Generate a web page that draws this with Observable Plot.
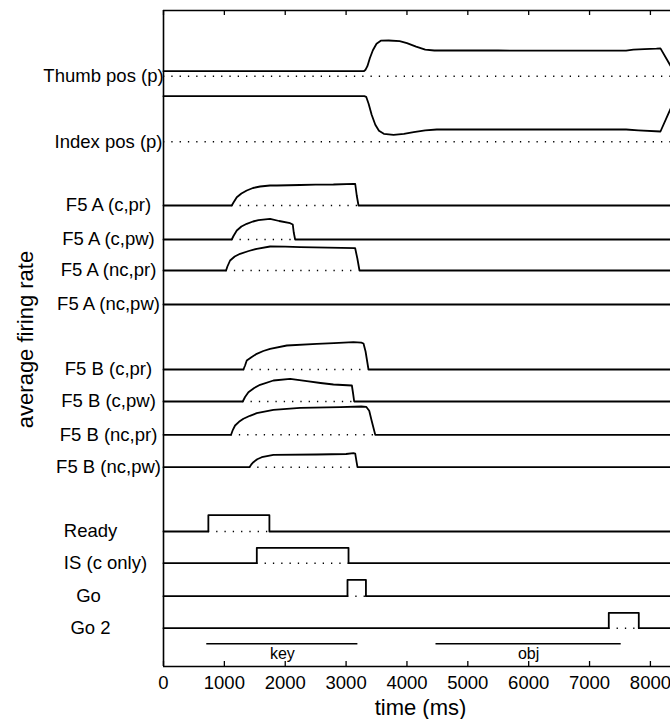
<!DOCTYPE html>
<html><head><meta charset="utf-8">
<script src="https://cdn.jsdelivr.net/npm/d3@7"></script>
<script src="https://cdn.jsdelivr.net/npm/@observablehq/plot@0.6"></script>
<style>body{margin:0;background:#fff} svg{display:block}</style>
</head><body><div id="chart"></div>
<script>
// ---- data ----
const timeTicks = [0, 1000, 2000, 3000, 4000, 5000, 6000, 7000, 8000];
const timeDomain = [0, 8330];
const levelDomain = [0, 656];

const rowLabels = ["Thumb pos (p)", "Index pos (p)", "F5 A (c,pr)", "F5 A (c,pw)", "F5 A (nc,pr)", "F5 A (nc,pw)",
  "F5 B (c,pr)", "F5 B (c,pw)", "F5 B (nc,pr)", "F5 B (nc,pw)", "Ready", "IS (c only)", "Go", "Go 2"];
const rowBaselines = [590.3, 524.7, 461, 427, 396, 362, 297, 265, 231.7, 199.3, 135, 103.3, 70.3, 38.3];

const thumbPos = [[0,5],[3290,5],[3320,6.5],[3350,10],[3390,18],[3440,26],[3500,32.5],[3570,35.5],[3700,35.7],[3880,35],[4000,33],[4150,29.5],[4300,26.5],[4450,25.7],[5500,25.7],[6500,25.5],[7600,25.5],[7720,26.5],[7900,27],[8100,27.5],[8165,27.8],[8330,10.5]];
const indexPos = [[0,45.6],[3300,45.6],[3330,45],[3370,38],[3420,27],[3480,17],[3540,11],[3620,8],[3780,7],[3950,8],[4110,9.7],[4300,11.5],[4490,12.3],[6000,12.3],[7600,12.3],[7800,11.5],[8165,10.3],[8330,33]];
const f5aCPr = [[0,0],[1121,0],[1150,3],[1204,8.3],[1280,12],[1368,15],[1470,17.5],[1587,19],[1750,20],[1862,20],[2245,20.5],[2500,20.8],[2792,21],[3121,21.7],[3150,21.5],[3175,10],[3204,0],[8330,0]];
const f5aCPw = [[0,0],[1121,0],[1150,3.5],[1204,9],[1280,13],[1368,15.7],[1470,18],[1560,19.3],[1751,20.7],[1900,18.5],[2081,16.3],[2124,15],[2140,7],[2163,0],[8330,0]];
const f5aNcPr = [[0,0],[1028,0],[1050,4],[1094,10],[1170,14],[1258,16.7],[1400,19.5],[1532,21.7],[1751,24],[2000,23.8],[2245,23.3],[2700,22.8],[3149,22.3],[3185,12],[3220,0],[8330,0]];
const f5aNcPw = [[0,0],[8330,0]];
const f5bCPr = [[0,0],[1313,0],[1340,4],[1368,9],[1450,12.5],[1532,15.7],[1640,18.5],[1751,20.7],[2026,24],[2519,25.7],[2800,26.3],[3121,27.3],[3250,26.8],[3286,26],[3320,18],[3368,0],[8330,0]];
const f5bCPw = [[0,0],[1302,0],[1340,4.5],[1395,9.3],[1490,13.5],[1587,16.7],[1806,21],[2081,22.7],[2355,20.3],[2580,18.5],[2792,17],[3095,16],[3115,8],[3133,0],[8330,0]];
const f5bNcPr = [[0,0],[1110,0],[1140,5],[1176,9.3],[1240,13],[1313,16],[1420,19],[1532,21.6],[1806,25],[2245,27],[2902,27.6],[3250,28.3],[3330,28],[3380,24],[3420,14],[3479,0],[8330,0]];
const f5bNcPw = [[0,0],[1412,0],[1440,2.5],[1477,5],[1540,8],[1614,10],[1806,12.4],[2519,12.7],[3000,13.2],[3121,14],[3150,13.5],[3170,6],[3187,0],[8330,0]];
const readyCue = [[0,0],[737,0],[737,16.3],[1740,16.3],[1740,0],[8330,0]];
const isCue = [[0,0],[1533,0],[1533,15.4],[3040,15.4],[3040,0],[8330,0]];
const goCue = [[0,0],[3023,0],[3023,16.4],[3326,16.4],[3326,0],[8330,0]];
const go2Cue = [[0,0],[7316,0],[7316,15.4],[7809,15.4],[7809,0],[8330,0]];

const dottedSpans = [[0,8330],[0,8330],[1121,3190],[1121,2150],[1028,3210],null,[1313,3360],[1302,3140],[1110,3470],[1412,3180],[737,1740],[1533,3040],[3023,3326],[7316,7809]];

const epochNames = ["key", "obj"];
const epochStart = [711, 4477];
const epochEnd = [3194, 7520];
const epochLevel = 22.7;
const epochLabelLevel = 12.8;

// ---- build ----
const traces = [thumbPos, indexPos, f5aCPr, f5aCPw, f5aNcPr, f5aNcPw, f5bCPr, f5bCPw, f5bNcPr, f5bNcPw, readyCue, isCue, goCue, go2Cue];
const lineData = traces.flatMap((tr, i) => tr.map(([t, v]) => ({row: i, t, v: rowBaselines[i] + v})));
const dotData = dottedSpans.map((s, i) => s && ({base: rowBaselines[i], t0: s[0], t1: s[1]})).filter(Boolean);
const rows = rowLabels.map((label, i) => ({label, base: rowBaselines[i]}));
const epochs = epochNames.map((name, i) => ({name, t0: epochStart[i], t1: epochEnd[i], mid: (epochStart[i] + epochEnd[i]) / 2}));

// label horizontal shifts (style)
const labelShift = {"Thumb pos (p)": -5, "Ready": -18, "Go": -20, "Go 2": -18, "IS (c only)": -3};

const font = "Liberation Sans, Arial, Helvetica, sans-serif";
const chart = Plot.plot({
  width: 670, height: 719,
  marginLeft: 163, marginRight: 0, marginTop: 10, marginBottom: 53,
  style: {fontFamily: font, color: "black", background: "white"},
  x: {domain: timeDomain},
  y: {domain: levelDomain, axis: null},
  marks: [
    Plot.ruleY(dotData, {y: "base", x1: "t0", x2: "t1", stroke: "black", strokeWidth: 1.4, strokeDasharray: "1.3,7"}),
    Plot.line(lineData, {x: "t", y: "v", z: "row", stroke: "black", strokeWidth: 1.8, strokeLinejoin: "round"}),
    Plot.ruleY(epochs, {y: () => epochLevel, x1: "t0", x2: "t1", stroke: "black", strokeWidth: 1.6}),
    Plot.text(epochs, {x: "mid", y: () => epochLabelLevel, text: "name", fontSize: 16}),
    Plot.ruleX([timeDomain[0]], {stroke: "black", strokeWidth: 1.6}),
    Plot.ruleY(levelDomain, {stroke: "black", strokeWidth: 1.6}),
    Plot.tickX(timeTicks, {x: d => d, insetTop: 651, stroke: "black", strokeWidth: 1.3}),
    Plot.tickX(timeTicks, {x: d => d, insetBottom: 651, stroke: "black", strokeWidth: 1.3}),
    Plot.axisX({ticks: timeTicks, tickSize: 0, tickPadding: 9.5, fontSize: 18.5, label: null, tickFormat: d => String(d)}),
    Plot.text(rows, {y: "base", text: "label", frameAnchor: "left", textAnchor: "middle", lineAnchor: "middle", fontSize: 18.5,
      dx: -55}),
    Plot.text(["time (ms)"], {frameAnchor: "bottom", lineAnchor: "middle", textAnchor: "middle", dy: 41, dx: 3.5, fontSize: 22}),
    Plot.text(["average firing rate"], {frameAnchor: "left", textAnchor: "middle", lineAnchor: "middle", dx: -138, dy: 1, rotate: -90, fontSize: 22})
  ]
});
// apply per-label shifts
d3.select(chart).selectAll("text").each(function() {
  const s = labelShift[this.textContent];
  if (s !== undefined) {
    const cur = this.getAttribute("transform") || "";
    this.setAttribute("transform", cur + ` translate(${s},0)`);
  }
});
document.getElementById("chart").append(chart);
</script>
</body></html>
